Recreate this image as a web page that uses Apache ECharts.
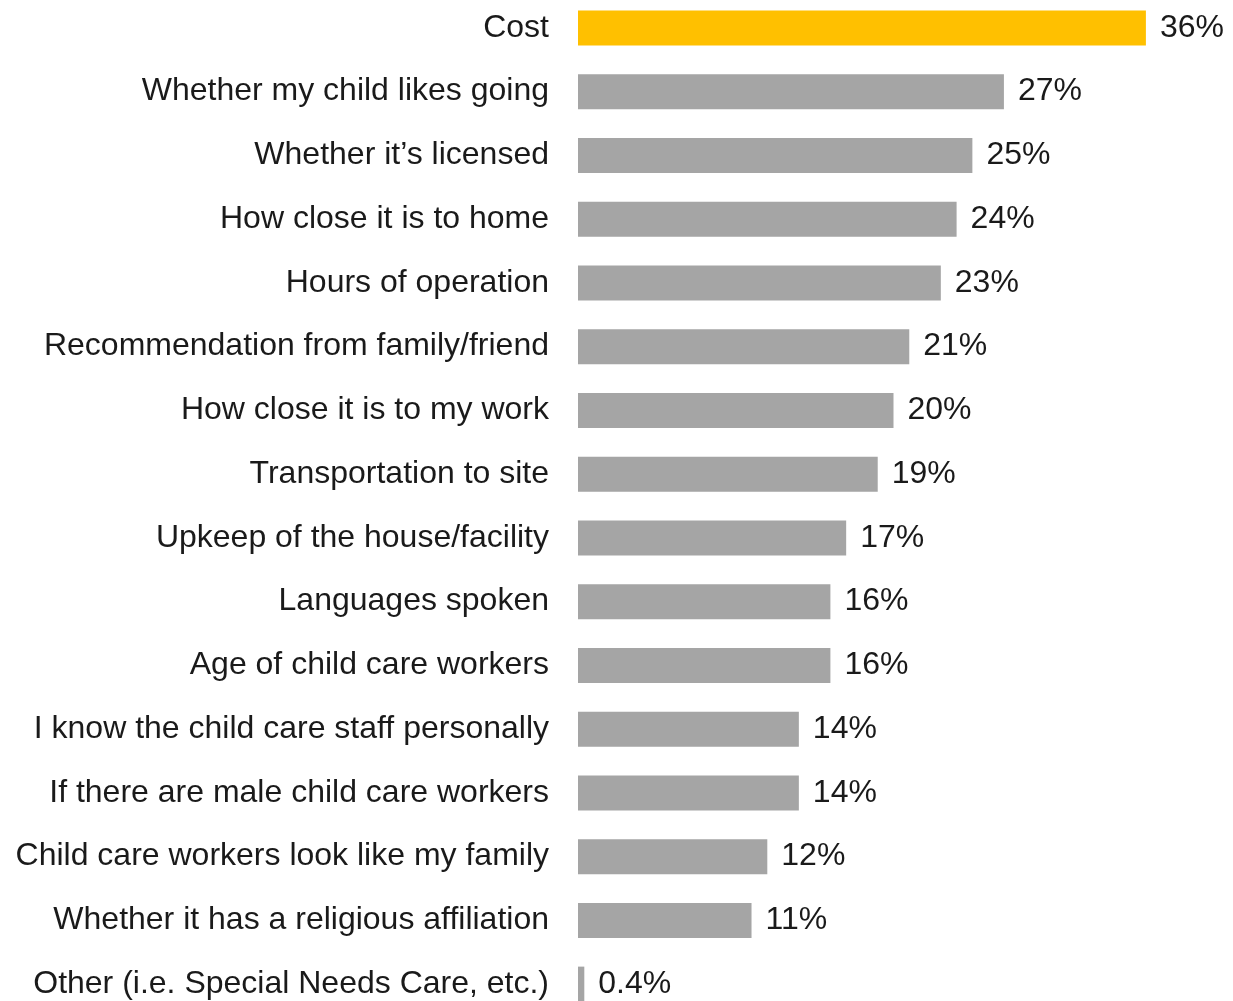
<!DOCTYPE html>
<html>
<head>
<meta charset="utf-8">
<style>
  html, body { margin: 0; padding: 0; background: #ffffff; overflow: hidden; }
  #chart { position: relative; top: -4px; width: 1233px; height: 1020px; }
</style>
<script src="https://cdn.jsdelivr.net/npm/echarts@6/dist/echarts.min.js"></script>
</head>
<body>
<div id="chart"></div>
<script>
// Factors parents weigh when choosing child care (share of respondents, %)
const categories = [
  'Cost',
  'Whether my child likes going',
  'Whether it\u2019s licensed',
  'How close it is to home',
  'Hours of operation',
  'Recommendation from family/friend',
  'How close it is to my work',
  'Transportation to site',
  'Upkeep of the house/facility',
  'Languages spoken',
  'Age of child care workers',
  'I know the child care staff personally',
  'If there are male child care workers',
  'Child care workers look like my family',
  'Whether it has a religious affiliation',
  'Other (i.e. Special Needs Care, etc.)'
];
const values = [36, 27, 25, 24, 23, 21, 20, 19, 17, 16, 16, 14, 14, 12, 11, 0.4];
const highlightIndex = 0;

const chart = echarts.init(document.getElementById('chart'), null, { renderer: 'canvas' });

const fontFamily = '"Liberation Sans", Arial, Helvetica, sans-serif';
const textColor = '#1a1a1a';

chart.setOption({
  animation: false,
  backgroundColor: '#ffffff',
  grid: { left: 578, right: 24, top: 0, bottom: 0, containLabel: false },
  xAxis: {
    type: 'value',
    min: 0,
    max: 40,
    show: false
  },
  yAxis: {
    type: 'category',
    data: categories,
    inverse: true,
    axisLine: { show: false },
    axisTick: { show: false },
    splitLine: { show: false },
    axisLabel: {
      margin: 29,
      color: textColor,
      fontSize: 32,
      fontFamily: fontFamily
    }
  },
  series: [{
    type: 'bar',
    barWidth: 35,
    data: values.map((v, i) => ({
      value: v,
      itemStyle: { color: i === highlightIndex ? '#FFC000' : '#A5A5A5' }
    })),
    label: {
      show: true,
      position: 'right',
      distance: 14,
      color: textColor,
      fontSize: 32,
      fontFamily: fontFamily,
      formatter: p => p.value + '%'
    }
  }]
});
</script>
</body>
</html>
